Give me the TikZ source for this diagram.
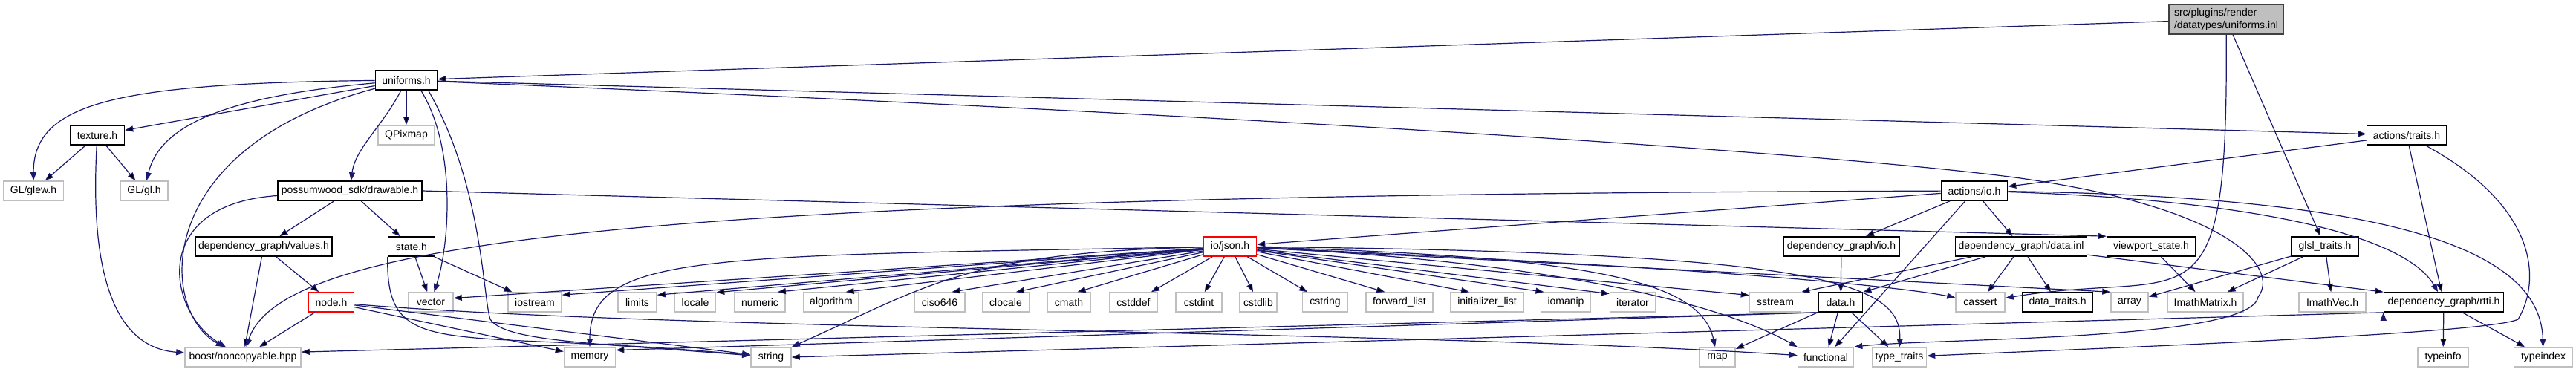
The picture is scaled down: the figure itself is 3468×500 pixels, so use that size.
\documentclass[tikz,border=0pt]{standalone}
\usepackage{fontspec}
\setmainfont{Liberation Sans}
\usetikzlibrary{arrows.meta}
\definecolor{edgeblue}{HTML}{191970}
\definecolor{sysgray}{HTML}{BFBFBF}
\tikzset{
  filebox/.style={draw, rectangle, line width=0.8pt, minimum height=13pt, inner xsep=2pt, inner ysep=1pt,
    font=\fontsize{7}{8.4}\selectfont, minimum width={#1*0.5pt}},
  docfile/.style={filebox=#1, draw=black},
  sysfile/.style={filebox=#1, draw=sysgray},
  cutfile/.style={filebox=#1, draw=red},
  dep/.style={->, draw=edgeblue, line width=0.6pt},
}

\begin{document}
\begin{tikzpicture}[x=0.5pt,y=-0.5pt,>={Triangle[length=5.5pt,width=4pt]}]
  \path[use as bounding box, fill=white] (0,0) rectangle (3468,500);

  \node[filebox=154, draw=black!75, fill=sysgray, minimum height=20pt, align=left] (root) at (2997,26) {src/plugins/render\\/datatypes/uniforms.inl};
  \node[docfile=83] (uniforms) at (547,108) {uniforms.h};
  \node[docfile=73] (texture) at (131,182) {texture.h};
  \node[sysfile=76] (qpixmap) at (547,182) {QPixmap};
  \node[docfile=107] (actraits) at (3240,182) {actions/traits.h};
  \node[sysfile=81] (glew) at (45,257) {GL/glew.h};
  \node[sysfile=64] (gl) at (194,257) {GL/gl.h};
  \node[docfile=194] (drawable) at (471,257) {possumwood\_sdk/drawable.h};
  \node[docfile=89] (actio) at (2658,257) {actions/io.h};
  \node[docfile=184] (values) at (355,332) {dependency\_graph/values.h};
  \node[docfile=63] (state) at (554,332) {state.h};
  \node[cutfile=71] (json) at (1656,332) {io/json.h};
  \node[docfile=156] (dgio) at (2479,332) {dependency\_graph/io.h};
  \node[docfile=177] (datainl) at (2721,332) {dependency\_graph/data.inl};
  \node[docfile=119] (viewport) at (2896,332) {viewport\_state.h};
  \node[docfile=90] (glsl) at (3130,332) {glsl\_traits.h};
  \node[cutfile=61] (nodeh) at (446,407) {node.h};
  \node[sysfile=60] (vector) at (580,407) {vector};
  \node[sysfile=72] (iostream) at (720,407) {iostream};
  \node[sysfile=52] (limits) at (858,407) {limits};
  \node[sysfile=55] (locale) at (936,407) {locale};
  \node[sysfile=68] (numeric) at (1023,407) {numeric};
  \node[sysfile=74] (algorithm) at (1119,407) {algorithm};
  \node[sysfile=68] (ciso) at (1265,407) {ciso646};
  \node[sysfile=63] (clocale) at (1354,407) {clocale};
  \node[sysfile=58] (cmath) at (1439,407) {cmath};
  \node[sysfile=65] (cstddef) at (1526,407) {cstddef};
  \node[sysfile=62] (cstdint) at (1614,407) {cstdint};
  \node[sysfile=50] (cstdlib) at (1694,407) {cstdlib};
  \node[sysfile=61] (cstring) at (1784,407) {cstring};
  \node[sysfile=90] (fwdlist) at (1884,407) {forward\_list};
  \node[sysfile=98] (initlist) at (2002,407) {initializer\_list};
  \node[sysfile=67] (iomanip) at (2108,407) {iomanip};
  \node[sysfile=61] (iterator) at (2198,407) {iterator};
  \node[sysfile=69] (sstream) at (2390,407) {sstream};
  \node[docfile=59] (datah) at (2478,407) {data.h};
  \node[sysfile=66] (cassert) at (2666,407) {cassert};
  \node[docfile=95] (datatraits) at (2770,407) {data\_traits.h};
  \node[sysfile=50] (array) at (2867,407) {array};
  \node[sysfile=102] (imathmatrix) at (2969,407) {ImathMatrix.h};
  \node[sysfile=90] (imathvec) at (3140,407) {ImathVec.h};
  \node[docfile=161] (rtti) at (3290,407) {dependency\_graph/rtti.h};
  \node[sysfile=156] (boost) at (327,481) {boost/noncopyable.hpp};
  \node[sysfile=69] (memory) at (794,481) {memory};
  \node[sysfile=54] (string) at (1038,481) {string};
  \node[sysfile=48] (map) at (2312,481) {map};
  \node[sysfile=75] (functional) at (2458,481) {functional};
  \node[sysfile=73] (typetraits) at (2557,481) {type\_traits};
  \node[sysfile=68] (typeinfo) at (3289,481) {typeinfo};
  \node[sysfile=79] (typeindex) at (3424,481) {typeindex};

  \path[dep]
    (root) edge (uniforms) edge (glsl)
    (uniforms) edge (texture) edge (qpixmap) edge (actraits)
    (texture) edge (glew) edge (gl)
    (drawable) edge (values) edge (state)
    (drawable.east) edge (viewport.north west)
    (values) edge (boost) edge (nodeh)
    (state) edge (vector) edge (iostream)
    (nodeh) edge (boost) edge (memory) edge (string)
    (json) edge (vector.10) edge (iostream.15) edge (limits.20) edge (locale.25)
      edge (numeric.30) edge (algorithm.35) edge (ciso.40) edge (clocale.45) edge (cmath.50)
      edge (cstddef) edge (cstdint) edge (cstdlib)
      edge (cstring.150) edge (fwdlist.145) edge (initlist.150) edge (iomanip.155)
      edge (iterator.160) edge (sstream.165) edge (array.north west)
    (dgio) edge (datah)
    (datah) edge (map) edge (functional) edge (typetraits)
    (datah.south west) edge (memory.15) edge (boost.5)
    (datainl) edge (sstream.north east) edge (datah.north east) edge (cassert) edge (datatraits)
    (datainl) edge (rtti.north west)
    (viewport) edge (imathmatrix)
    (glsl) edge (array) edge (imathmatrix) edge (imathvec)
    (actio) edge (dgio) edge (datainl) edge (json) edge (functional)
    (actraits) edge (actio) edge (rtti)
    (rtti) edge (typeinfo) edge (typeindex)
    (rtti.south west) edge (string.east);

  \draw[dep] (root) .. controls (3000,460) and (2950,360) .. (cassert);
  \draw[dep] (uniforms) .. controls (150,112) and (45,140) .. (glew);
  \draw[dep] (uniforms) .. controls (300,130) and (215,170) .. (gl);
  \draw[dep] (uniforms) .. controls (200,200) and (215,420) .. (boost);
  \draw[dep] (uniforms) .. controls (515,170) and (478,200) .. (drawable);
  \draw[dep] (uniforms.-35) .. controls (615,200) and (605,330) .. (vector);
  \draw[dep] (uniforms.-25) .. controls (650,250) and (650,400) .. (660,430)
    .. controls (680,460) and (800,462) .. (string);
  \draw[dep] (uniforms) .. controls (1800,160) and (2500,210) .. (2720,240)
    .. controls (3000,280) and (3070,360) .. (3040,400)
    .. controls (3030,460) and (2600,455) .. (functional.north east);
  \draw[dep] (texture) .. controls (118,420) and (180,470) .. (boost);
  \draw[dep] (drawable) .. controls (200,275) and (225,420) .. (boost);
  \draw[dep] (state.south west) .. controls (520,490) and (600,440) .. (string);
  \draw[dep] (nodeh) .. controls (900,445) and (1900,445) .. (functional);
  \draw[dep] (json) .. controls (950,345) and (794,340) .. (memory);
  \draw[dep] (json) .. controls (1300,340) and (1250,385) .. (string.north east);
  \draw[dep] (json) .. controls (2150,345) and (2290,380) .. (map);
  \draw[dep] (json) .. controls (2050,350) and (2300,400) .. (functional.north west);
  \draw[dep] (json) .. controls (2450,340) and (2560,380) .. (typetraits);
  \draw[dep] (json) .. controls (2300,360) and (2550,385) .. (cassert);
  \draw[dep] (actio) .. controls (900,262) and (380,320) .. (boost);
  \draw[dep] (actio) .. controls (3050,270) and (3240,320) .. (rtti);
  \draw[dep] (actio) .. controls (3200,265) and (3420,330) .. (typeindex);
  \draw[dep] (actraits) .. controls (3420,280) and (3420,380) .. (3390,430)
    .. controls (3350,450) and (2800,470) .. (typetraits);
\end{tikzpicture}
\end{document}
